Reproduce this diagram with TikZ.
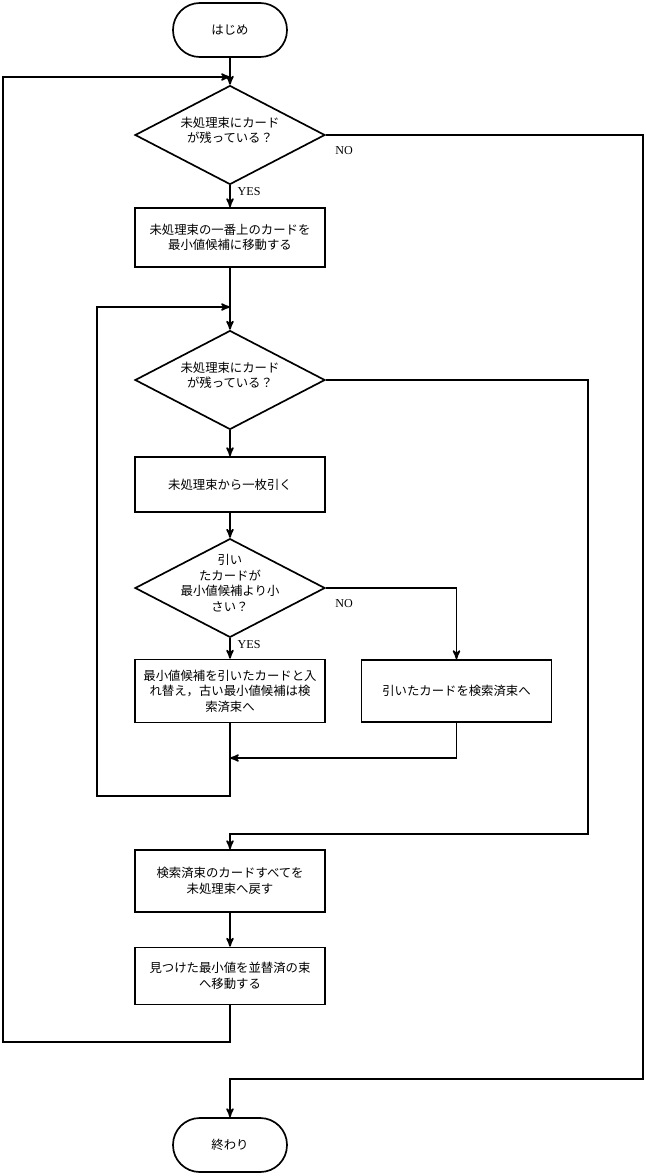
\documentclass[tikz,border=0pt]{standalone}
\usepackage{fontspec}
\setmainfont{Liberation Serif}
\newfontfamily\jpfont{Noto Sans CJK JP}
\usetikzlibrary{arrows,shapes.geometric}

\begin{document}
\begin{tikzpicture}[>=stealth',auto,line width=1.2pt,
                jp/.style={font=\jpfont\fontsize{8.8}{11}\selectfont},
                term node/.style={rectangle,draw,jp,rounded corners=0.67cm,minimum width=2.85cm,minimum height=1.35cm},
                box node/.style={rectangle,draw,jp,align=center,minimum width=4.75cm,minimum height=1.45cm},
                dec node/.style={diamond,draw,jp,inner sep=0pt,minimum width=4.75cm,minimum height=1.9cm},
                yn/.style={font=\fontsize{8.6}{10}\selectfont,inner sep=2pt}]
                \useasboundingbox (-5.75,0.75) rectangle (10.4,-28.65);

                \node[term node] (start) {はじめ};
                \node[dec node] (d1) [below of=start,node distance=2.625cm] {\smash{\begin{tabular}{@{}c@{}}未処理束にカード\\が残っている？\end{tabular}}};
                \node[box node,minimum height=1.475cm] (b1) [below of=d1,node distance=2.5625cm] {未処理束の一番上のカードを\\最小値候補に移動する};
                \node[dec node] (d2) [below of=b1,node distance=3.5625cm] {\smash{\begin{tabular}{@{}c@{}}未処理束にカード\\が残っている？\end{tabular}}};
                \node[box node,minimum height=1.375cm] (b2) [below of=d2,node distance=2.6125cm] {未処理束から一枚引く};
                \node[dec node] (d3) [below of=b2,node distance=2.5875cm] {\smash{\begin{tabular}{@{}c@{}}引い\\たカードが\\最小値候補より小\\さい？\end{tabular}}};
                \node[box node,minimum height=1.575cm] (b3) [below of=d3,node distance=2.575cm] {最小値候補を引いたカードと入\\れ替え，古い最小値候補は検\\索済束へ};
                \node[box node,minimum height=1.55cm] (b4) [right of=b3,node distance=5.6625cm] {引いたカードを検索済束へ};
                \node[box node,minimum height=1.55cm] (b5) [below of=b3,node distance=4.75cm] {検索済束のカードすべてを\\未処理束へ戻す};
                \node[box node,minimum height=1.425cm] (b6) [below of=b5,node distance=2.375cm] {見つけた最小値を並替済の束\\へ移動する};
                \node[term node] (end) [below of=b6,node distance=4.225cm] {終わり};

                % corners and joins of the loops
                \coordinate (j1) at (0,-1.175);
                \coordinate (j2) at (0,-6.925);
                \coordinate (j3) at (0,-18.2);
                \coordinate (c0) at (10.325,-26.225);
                \coordinate (c1) at (-5.675,-25.3);
                \coordinate (c2) at (-3.325,-19.15);
                \coordinate (c3) at (8.95,-20.1);

                \path[->]
                (start) edge (d1)
                (d1) edge node[yn,pos=0.28,xshift=0.1cm] {YES} (b1)
                (b1) edge (d2)
                (d2) edge (b2)
                (b2) edge (d3)
                (d3) edge node[yn,pos=0.3,xshift=0.1cm] {YES} (b3)
                (b5) edge (b6)
                ;
                \draw[->] (d1.east) node[yn,below right,xshift=0.15cm,yshift=-0.2cm] {NO} -| (c0) -| (end.north);
                \draw[->] (d2.east) -| (c3) -| (b5.north);
                \draw[->] (d3.east) node[yn,below right,xshift=0.15cm,yshift=-0.2cm] {NO} -| (b4.north);
                \draw[->] (b3.south) |- (c2) |- (j2);
                \draw[->] (b4.south) |- (j3);
                \draw[->] (b6.south) |- (c1) |- (j1);
\end{tikzpicture}
\end{document}
